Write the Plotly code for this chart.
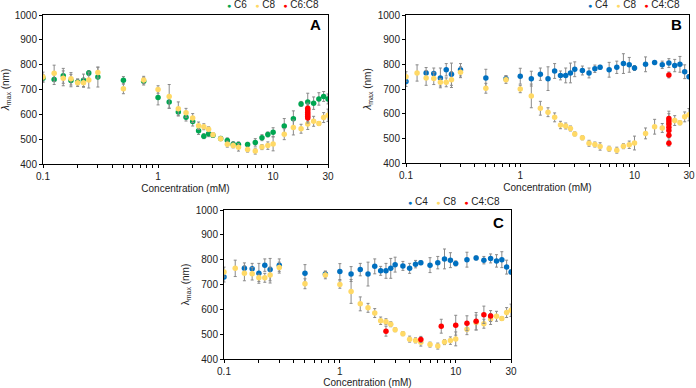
import math
import plotly.graph_objects as go

# ---------------- data ----------------
conc = [0.1, 0.125, 0.15, 0.175, 0.2, 0.225, 0.25, 0.3, 0.5, 0.75, 1, 1.25, 1.5, 1.75,
        2, 2.25, 2.5, 2.75, 3, 3.5, 4, 4.5, 5, 6, 7, 8, 9, 10, 12.5, 15, 17.5, 20,
        22.5, 25, 27.5, 30]

c8 = [750, 765, 745, 743, 727, 727, 738, 768, 703, 738, 700, 672, 622, 606,
      585, 554, 550, 540, 518, 502, 480, 475, 467, 458, 452, 468, 474, 481, 520, 547, 542, 561,
      572, 563, 587, 596]
c8_err = [20, 33, 30, 25, 15, 18, 32, 22, 20, 15, 15, 48, 28, 18,
          18, 15, 12, 10, 8, 8, 12, 10, 15, 10, 12, 10, 15, 28, 22, 30, 18, 22,
          20, 8, 20, 25]

c6 = [745, 740, 755, 736, 730, 737, 766, 750, 737, 733, 668, 650, 609, 588,
      571, 534, 512, 522, 516, 503, 495, 480, 479, 479, 487, 506, 519, 528, 553, 582, 642, 650,
      645, 662, 672, 662]
c6_err = [15, 20, 30, 25, 12, 25, 10, 40, 15, 15, 30, 25, 15, 15,
          18, 15, 10, 12, 8, 8, 10, 10, 10, 8, 15, 12, 10, 18, 30, 32, 10, 35,
          25, 25, 20, 20]

conc_c4 = [0.1, 0.15, 0.175, 0.2, 0.225, 0.25, 0.3, 0.5, 0.75, 1, 1.25, 1.5, 1.75,
           2, 2.25, 2.5, 2.75, 3, 3.5, 4, 4.5, 5, 6, 7, 8, 9, 10, 12.5, 15, 17.5, 20,
           22.5, 25, 27.5, 30]
c4 = [730, 765, 763, 745, 778, 760, 778, 745, 742, 752, 742, 760, 742,
      773, 755, 755, 765, 780, 775, 765, 782, 788, 778, 788, 803, 798, 785, 800, 807, 798, 805,
      795, 800, 770, 750]
c4_err = [20, 22, 22, 40, 25, 45, 25, 35, 12, 32, 30, 25, 48,
          30, 18, 30, 40, 30, 18, 20, 15, 8, 30, 25, 40, 30, 10, 30, 8, 15, 18,
          25, 32, 28, 8]

mixA_x = [20, 20, 20, 20, 20, 20]
mixA_y = [625, 617, 608, 600, 592, 585]
mixA_err = [20, 20, 20, 20, 20, 20]

mixB_x = [20, 20, 20, 20, 20, 20, 20, 20]
mixB_y = [757, 580, 570, 558, 545, 532, 512, 480]
mixB_err = [12, 30, 30, 30, 30, 30, 30, 12]

mixC_x = [2.5, 5, 7.5, 10, 12.5, 15, 17.5, 20]
mixC_y = [512, 479, 532, 536, 544, 552, 578, 573]
mixC_err = [20, 12, 28, 40, 30, 35, 35, 22]

x_ticks = [0.1, 1, 10, 30]
x_minor = [0.2, 0.3, 0.4, 0.5, 0.6, 0.7, 0.8, 0.9, 2, 3, 4, 5, 6, 7, 8, 9, 20]
y_ticks = [400, 500, 600, 700, 800, 900, 1000]

GREEN = "#00A651"
YELLOW = "#FFD966"
BLUE = "#0070C0"
RED = "#FF0000"
ERR = "#8a8a8a"
FONT = "Liberation Sans, Arial, sans-serif"
TXT = "#222222"

fig = go.Figure()


def add(x, y, err, name, color, xa, ya):
    fig.add_trace(go.Scatter(
        x=x, y=y, mode="markers", name=name,
        marker=dict(color=color, size=5.5, symbol="circle"),
        error_y=dict(type="data", array=err, color=ERR, thickness=1, width=1.5),
        xaxis=xa, yaxis=ya))


# Panel A
add(conc, c6, c6_err, "C6", GREEN, "x", "y")
add(conc, c8, c8_err, "C8", YELLOW, "x", "y")
add(mixA_x, mixA_y, mixA_err, "C6:C8", RED, "x", "y")
# Panel B
add(conc_c4, c4, c4_err, "C4", BLUE, "x2", "y2")
add(conc, c8, c8_err, "C8", YELLOW, "x2", "y2")
add(mixB_x, mixB_y, mixB_err, "C4:C8", RED, "x2", "y2")
# Panel C
add(conc_c4, c4, c4_err, "C4", BLUE, "x3", "y3")
add(conc, c8, c8_err, "C8", YELLOW, "x3", "y3")
add(mixC_x, mixC_y, mixC_err, "C4:C8", RED, "x3", "y3")

W, H = 696, 388
doms = {
    "": ((43, 328), (15, 164)),
    "2": ((406, 689), (15, 163)),
    "3": ((224, 511), (210, 359)),
}

for k, ((x0, x1), (y0, y1)) in doms.items():
    xa = dict(
        type="log", range=[math.log10(0.1), math.log10(30)],
        domain=[x0 / W, x1 / W], automargin=False,
        tickmode="array", tickvals=x_ticks, ticktext=[str(v) for v in x_ticks],
        ticks="outside", ticklen=3, tickcolor="black", tickwidth=1,
        minor=dict(tickmode="array", tickvals=x_minor, ticks="outside", ticklen=3,
                   tickcolor="black", tickwidth=1, showgrid=False),
        showline=True, linecolor="black", linewidth=1, mirror=True,
        showgrid=False, zeroline=False,
        tickfont=dict(size=10, color=TXT, family=FONT),
        title=dict(text="Concentration (mM)", font=dict(size=10, color=TXT, family=FONT),
                   standoff=3),
        anchor="y" + k,
    )
    ya = dict(
        range=[400, 1000], domain=[1 - y1 / H, 1 - y0 / H], automargin=False,
        tickmode="array", tickvals=y_ticks,
        ticks="outside", ticklen=3, tickcolor="black", tickwidth=1,
        showline=True, linecolor="black", linewidth=1, mirror=True,
        showgrid=False, zeroline=False,
        tickfont=dict(size=10, color=TXT, family=FONT),
        title=dict(text=("λ" if k == "3" else "<i>λ</i>") + "<sub>max</sub> (nm)",
                   font=dict(size=10, color=TXT, family=FONT), standoff=4),
        anchor="x" + k,
    )
    fig.update_layout(**{"xaxis" + k: xa, "yaxis" + k: ya})

# compact legends (one per panel), as text
legends = [
    (("C6", GREEN), ("C8", YELLOW), ("C6:C8", RED), 321, 5),
    (("C4", BLUE), ("C8", YELLOW), ("C4:C8", RED), 682, 5),
    (("C4", BLUE), ("C8", YELLOW), ("C4:C8", RED), 502, 201),
]
for a, b, c, xr, yc in legends:
    parts = []
    for name, col in (a, b, c):
        parts.append("<span style='color:%s;font-size:7px'>●</span> %s" % (col, name))
    fig.add_annotation(text="&nbsp;&nbsp;&nbsp;".join(parts), x=xr / W, y=1 - yc / H,
                       xref="paper", yref="paper", showarrow=False, xanchor="right",
                       yanchor="middle", font=dict(size=10, color=TXT, family=FONT))

for txt, (x, y) in {"A": (315, 25), "B": (676, 25), "C": (498, 222)}.items():
    fig.add_annotation(text="<b>" + txt + "</b>", x=x / W, y=1 - y / H, xref="paper",
                       yref="paper", showarrow=False, xanchor="center", yanchor="middle",
                       font=dict(size=15, color="black", family=FONT))

fig.update_layout(
    width=W, height=H, margin=dict(l=0, r=0, t=0, b=0, autoexpand=False),
    paper_bgcolor="white", plot_bgcolor="white",
    showlegend=False, font=dict(family=FONT),
)

fig.write_html("out.html")
